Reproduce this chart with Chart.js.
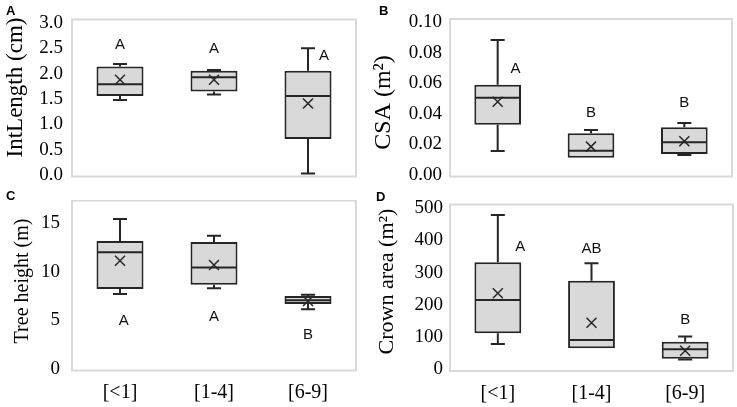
<!DOCTYPE html>
<html>
<head>
<meta charset="utf-8">
<script src="https://cdn.jsdelivr.net/npm/chart.js@4/dist/chart.umd.min.js"></script>
<style>
  body { margin: 0; background: #fff; }
  #wrap { position: relative; width: 737px; height: 407px; overflow: hidden; background: #fff; }
  #wrap canvas { position: absolute; }
  .tag { position: absolute; font: bold 13px "Liberation Sans", Arial, sans-serif; line-height: 13px; color: #000; }
</style>
</head>
<body>
<div id="wrap">
  <canvas id="cA" width="370" height="200" style="left:0;top:0"></canvas>
  <canvas id="cB" width="367" height="200" style="left:370px;top:0"></canvas>
  <canvas id="cC" width="370" height="207" style="left:0;top:200px"></canvas>
  <canvas id="cD" width="367" height="207" style="left:370px;top:200px"></canvas>
  <div class="tag" style="left:6px;top:4px">A</div>
  <div class="tag" style="left:379px;top:4px">B</div>
  <div class="tag" style="left:6px;top:189px">C</div>
  <div class="tag" style="left:376px;top:190px">D</div>
</div>
<script>
const categories = ['[<1]', '[1-4]', '[6-9]'];

// each box: min, q1, median, q3, max
const intLengthBoxes = [[1.48, 1.56, 1.79, 2.14, 2.19], [1.59, 1.65, 1.93, 2.06, 2.07], [0.03, 0.71, 1.56, 2.06, 2.50]];
const intLengthMeans = [1.88, 1.88, 1.41];
const intLengthLetters = ['A', 'A', 'A'];
const intLengthLetterY = [2.57, 2.49, 2.35];

const csaBoxes = [[0.0157, 0.033, 0.0507, 0.0592, 0.0885], [0.0111, 0.0113, 0.0159, 0.0273, 0.0295], [0.0131, 0.0138, 0.0214, 0.0313, 0.0341]];
const csaMeans = [0.048, 0.0186, 0.0221];
const csaLetters = ['A', 'B', 'B'];
const csaLetterY = [0.0693, 0.0407, 0.0474];

const heightBoxes = [[7.72, 8.24, 12.02, 13.18, 15.45], [8.31, 8.68, 10.47, 13.08, 13.73], [6.15, 6.69, 7.08, 7.52, 7.65]];
const heightMeans = [11.15, 10.71, 7.0];
const heightLetters = ['A', 'A', 'B'];
const heightLetterY = [4.94, 5.36, 3.5];

const crownBoxes = [[79, 112, 215, 332, 478], [66, 66, 91, 275, 329], [31, 33, 63, 86, 102]];
const crownMeans = [236, 145, 58];
const crownLetters = ['A', 'AB', 'B'];
const crownLetterY = [379, 373, 153];

const SERIF = '"Liberation Serif", "Times New Roman", serif';
const SANS = '"Liberation Sans", Arial, sans-serif';
const INK = '#262626';

const panels = [
  { id: 'cA', boxes: intLengthBoxes, means: intLengthMeans, letters: intLengthLetters, letterY: intLengthLetterY,
    shift: [0, 0, 0.17], title: 'IntLength (cm)', titleSize: 23, titleX: 15.5, titleY: 87.5,
    max: 3, step: 0.5, dec: 1, tickPad: 10, w: 370, h: 200, area: { l: 73, r: 355, t: 23, b: 175 }, xLabels: false },
  { id: 'cB', boxes: csaBoxes, means: csaMeans, letters: csaLetters, letterY: csaLetterY,
    shift: [0.19, 0, 0], title: 'CSA (m²)', titleSize: 24, titleX: 13.5, titleY: 102.5,
    max: 0.1, step: 0.02, dec: 2, tickPad: 9, w: 367, h: 200, area: { l: 81, r: 361, t: 22.5, b: 175 }, xLabels: false },
  { id: 'cC', boxes: heightBoxes, means: heightMeans, letters: heightLetters, letterY: heightLetterY,
    shift: [0.04, 0, 0], title: 'Tree height (m)', titleSize: 20, titleX: 22.5, titleY: 81,
    max: 17, step: 5, dec: 0, tickPad: 13, w: 370, h: 207, area: { l: 73, r: 355, t: 4, b: 169 }, xLabels: true },
  { id: 'cD', boxes: crownBoxes, means: crownMeans, letters: crownLetters, letterY: crownLetterY,
    shift: [0.24, 0, 0], title: 'Crown area (m²)', titleSize: 22, titleX: 17, titleY: 81.5,
    max: 500, step: 100, dec: 0, tickPad: 8, w: 367, h: 207, area: { l: 81, r: 362, t: 8, b: 169.5 }, xLabels: true },
];

function boxParts(p) {
  return {
    id: 'boxParts',
    beforeDraw(chart) {
      const a = chart.chartArea;
      const ctx = chart.ctx;
      ctx.save();
      ctx.strokeStyle = '#d9d9d9';
      ctx.lineWidth = 2;
      ctx.strokeRect(a.left - 1, a.top - 3.5, a.right - a.left + 2, a.bottom - a.top + 5);
      ctx.restore();
    },
    afterDatasetsDraw(chart) {
      const ctx = chart.ctx;
      const y = chart.scales.y;
      const x = chart.scales.x;
      const bars = chart.getDatasetMeta(0).data;
      ctx.save();
      ctx.strokeStyle = INK;
      p.boxes.forEach((b, i) => {
        const bar = bars[i];
        const cx = bar.x;
        const hw = bar.width / 2;
        const cap = bar.width * 0.15;
        const [mn, q1, md, q3, mx] = b.map(v => y.getPixelForValue(v));
        ctx.lineWidth = 2;
        ctx.beginPath();
        if (mx < q3 - 0.5) {
          ctx.moveTo(cx, q3); ctx.lineTo(cx, mx);
        }
        ctx.moveTo(cx - cap, mx); ctx.lineTo(cx + cap, mx);
        if (mn > q1 + 0.5) {
          ctx.moveTo(cx, q1); ctx.lineTo(cx, mn);
          ctx.moveTo(cx - cap, mn); ctx.lineTo(cx + cap, mn);
        }
        ctx.moveTo(cx - hw + 1, md); ctx.lineTo(cx + hw - 1, md);
        ctx.stroke();

        const my = y.getPixelForValue(p.means[i]);
        const s = 5;
        ctx.lineWidth = 1.5;
        ctx.beginPath();
        ctx.moveTo(cx - s, my - s); ctx.lineTo(cx + s, my + s);
        ctx.moveTo(cx - s, my + s); ctx.lineTo(cx + s, my - s);
        ctx.stroke();
      });

      const step = x.getPixelForValue(1) - x.getPixelForValue(0);
      ctx.fillStyle = '#111';
      ctx.font = '15px ' + SANS;
      ctx.textAlign = 'center';
      ctx.textBaseline = 'middle';
      p.letters.forEach((t, i) => {
        ctx.fillText(t, x.getPixelForValue(i) + p.shift[i] * step, y.getPixelForValue(p.letterY[i]));
      });
      ctx.restore();
    },
    afterDraw(chart) {
      const ctx = chart.ctx;
      ctx.save();
      ctx.translate(p.titleX, p.titleY);
      ctx.rotate(-Math.PI / 2);
      ctx.fillStyle = '#000';
      ctx.font = p.titleSize + 'px ' + SERIF;
      ctx.textAlign = 'center';
      ctx.textBaseline = 'middle';
      ctx.fillText(p.title, 0, 0);
      ctx.restore();
    }
  };
}

panels.forEach(p => {
  new Chart(document.getElementById(p.id), {
    type: 'bar',
    data: {
      labels: categories,
      datasets: [{
        data: p.boxes.map(b => [b[1], b[3]]),
        backgroundColor: '#d9d9d9',
        borderColor: INK,
        borderWidth: 2,
        borderSkipped: false,
        categoryPercentage: 1,
        barPercentage: 0.5,
      }],
    },
    options: {
      responsive: false,
      animation: false,
      events: [],
      layout: {
        padding: { left: 0, top: p.area.t, right: p.w - p.area.r, bottom: p.xLabels ? 0 : p.h - p.area.b },
      },
      plugins: { legend: { display: false }, tooltip: { enabled: false } },
      scales: {
        x: {
          display: p.xLabels,
          offset: true,
          grid: { display: false, drawTicks: false },
          border: { display: false },
          ticks: { padding: 12, maxRotation: 0, color: '#000', font: { family: SERIF, size: 20 } },
          afterFit: s => {
            if (p.xLabels) s.height = p.h - p.area.b;
            s.paddingLeft = 0;
            s.paddingRight = 0;
          },
        },
        y: {
          min: 0,
          max: p.max,
          grid: { display: false, drawTicks: false },
          border: { display: false },
          ticks: {
            stepSize: p.step,
            includeBounds: false,
            autoSkip: false,
            padding: p.tickPad,
            color: '#000',
            font: { family: SERIF, size: 19 },
            callback: v => Number(v).toFixed(p.dec),
          },
          afterFit: s => {
            s.width = p.area.l;
            s.paddingTop = 0;
            s.paddingBottom = 0;
          },
        },
      },
    },
    plugins: [boxParts(p)],
  });
});
</script>
</body>
</html>
